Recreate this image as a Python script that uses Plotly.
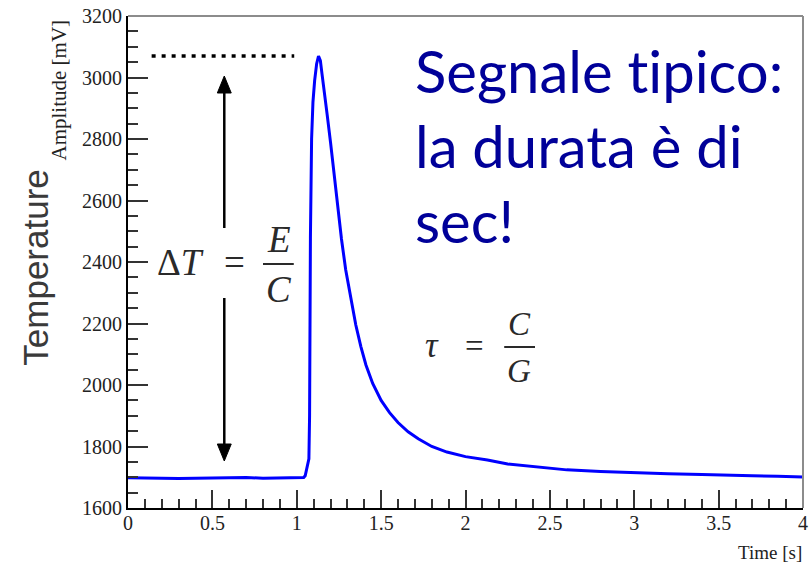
import plotly.graph_objects as go

# Recorded bolometer pulse: time in seconds, amplitude in mV
time_s = [0.00, 0.10, 0.20, 0.30, 0.40, 0.50, 0.60, 0.70, 0.80, 0.90, 1.00,
          1.03, 1.041, 1.05, 1.065, 1.072, 1.076, 1.078, 1.081, 1.088, 1.096,
          1.106, 1.118, 1.129, 1.14, 1.15, 1.16, 1.18, 1.20, 1.22, 1.24, 1.265,
          1.29, 1.32, 1.35, 1.38, 1.41, 1.45, 1.50, 1.55, 1.60, 1.66, 1.72,
          1.80, 1.89, 2.00, 2.13, 2.25, 2.40, 2.50, 2.60, 2.80, 3.00, 3.20,
          3.40, 3.50, 3.70, 3.85, 4.00]
amplitude_mV = [1698, 1697, 1698, 1696, 1697, 1698, 1697, 1699, 1697, 1698, 1697,
                1697, 1699, 1705, 1740, 1760, 1900, 2200, 2480, 2800, 2920,
                2990, 3045, 3070, 3055, 3010, 2960, 2880, 2790, 2690, 2590, 2475,
                2375, 2280, 2195, 2125, 2065, 2005, 1950, 1910, 1878, 1848, 1825,
                1800, 1782, 1767, 1756, 1743, 1735, 1728, 1724, 1719, 1714, 1711,
                1709, 1707, 1705, 1703, 1701]

x_tick_vals = [0, 0.5, 1, 1.5, 2, 2.5, 3, 3.5, 4]
x_tick_text = ["0", "0.5", "1", "1.5", "2", "2.5", "3", "3.5", "4"]
y_tick_vals = [1600, 1800, 2000, 2200, 2400, 2600, 2800, 3000, 3200]
y_tick_text = ["1600", "1800", "2000", "2200", "2400", "2600", "2800", "3000", "3200"]

W, H = 811, 566
ML, MR, MT, MB = 128, 3, 16, 58


def fx(px):
    """Pixel column -> paper x."""
    return (px - ML) / (W - ML - MR)


def fy(py):
    """Pixel row -> paper y."""
    return (H - MB - py) / (H - MT - MB)


SERIF = "Liberation Serif, Times New Roman, serif"
MATH = "#2a2a2a"

fig = go.Figure()
fig.add_trace(go.Scatter(
    x=time_s, y=amplitude_mV, mode="lines",
    line=dict(color="#0000ff", width=3), hoverinfo="skip", showlegend=False,
))

peak_level = max(amplitude_mV)

shapes = [
    # frame: light grey top and right edges
    dict(type="line", xref="paper", yref="paper", x0=0, x1=1, y0=1, y1=1,
         line=dict(color="#8c8c8c", width=2)),
    dict(type="line", xref="paper", yref="paper", x0=1, x1=1, y0=0, y1=1,
         line=dict(color="#8c8c8c", width=2)),
    # dotted peak level
    dict(type="line", xref="x", yref="y", x0=0.14, x1=0.985, y0=peak_level, y1=peak_level,
         line=dict(color="black", width=3.5, dash="4px,6px")),
    # double arrow for the temperature step
    dict(type="line", xref="paper", yref="paper", x0=fx(225), x1=fx(225), y0=fy(90), y1=fy(228),
         line=dict(color="black", width=2.5)),
    dict(type="line", xref="paper", yref="paper", x0=fx(225), x1=fx(225), y0=fy(298), y1=fy(447),
         line=dict(color="black", width=2.5)),
    dict(type="path", xref="paper", yref="paper",
         path=f"M {fx(225)} {fy(76)} L {fx(218)} {fy(93)} L {fx(232)} {fy(93)} Z",
         fillcolor="black", line=dict(color="black", width=1)),
    dict(type="path", xref="paper", yref="paper",
         path=f"M {fx(225)} {fy(461)} L {fx(218)} {fy(444)} L {fx(232)} {fy(444)} Z",
         fillcolor="black", line=dict(color="black", width=1)),
    # fraction bars
    dict(type="line", xref="paper", yref="paper", x0=fx(264), x1=fx(295), y0=fy(264), y1=fy(264),
         line=dict(color=MATH, width=2)),
    dict(type="line", xref="paper", yref="paper", x0=fx(507), x1=fx(538), y0=fy(347), y1=fy(347),
         line=dict(color=MATH, width=2)),
]


def label(text, px, py, size, family=SERIF, color=MATH, angle=0, xanchor="center"):
    return dict(text=text, xref="paper", yref="paper", x=fx(px), y=fy(py),
                xanchor=xanchor, yanchor="middle", textangle=angle, showarrow=False,
                font=dict(family=family, size=size, color=color))


annotations = [
    # axis titles
    label("Amplitude [mV]", 58, 90, 21, color="#222", angle=-90),
    label("Time [s]", 809, 552, 19, color="#222", xanchor="right"),
    label("Temperature", 34, 268, 35, family="Liberation Sans, Arial, sans-serif",
          color="#3a3a3a", angle=-90),
    # ΔT = E / C
    label("Δ<i>T</i>", 181, 262, 37),
    label("=", 235, 262, 37),
    label("<i>E</i>", 280, 239, 37),
    label("<i>C</i>", 280, 289, 37),
    # τ = C / G
    label("<i>τ</i>", 434, 345, 35),
    label("=", 477, 346, 33),
    label("<i>C</i>", 522, 324, 33),
    label("<i>G</i>", 522, 371, 33),
]

# caption lines (zero-width non-joiner keeps "ti" from ligating)
caption = ["Segnale t\u200cipico:", "la durata è di", "sec!"]
caption_rows = [70, 145, 220]
for line, row in zip(caption, caption_rows):
    annotations.append(label(line, 415, row, 58, family="Lato, Carlito, Calibri, sans-serif",
                             color="#000099", xanchor="left"))

fig.update_layout(
    width=W, height=H,
    margin=dict(l=ML, r=MR, t=MT, b=MB, pad=0),
    paper_bgcolor="white", plot_bgcolor="white",
    shapes=shapes, annotations=annotations,
    xaxis=dict(
        range=[0, 4], tickvals=x_tick_vals, ticktext=x_tick_text,
        showgrid=False, zeroline=False, showline=True, linecolor="black", linewidth=2,
        ticks="inside", ticklen=18, tickwidth=1.5, tickcolor="#333",
        minor=dict(dtick=0.1, ticks="inside", ticklen=9, tickwidth=1.5, tickcolor="#333", showgrid=False),
        tickfont=dict(family=SERIF, size=20, color="#222"),
        ticklabeloverflow="allow", ticklabelstandoff=-4,
    ),
    yaxis=dict(
        range=[1600, 3200], tickvals=y_tick_vals, ticktext=y_tick_text,
        showgrid=False, zeroline=False, showline=True, linecolor="black", linewidth=2,
        ticks="inside", ticklen=20, tickwidth=1.5, tickcolor="#333",
        minor=dict(dtick=50, ticks="inside", ticklen=10, tickwidth=1.5, tickcolor="#333", showgrid=False),
        tickfont=dict(family=SERIF, size=20, color="#222"),
    ),
)

fig.write_html("out.html")
